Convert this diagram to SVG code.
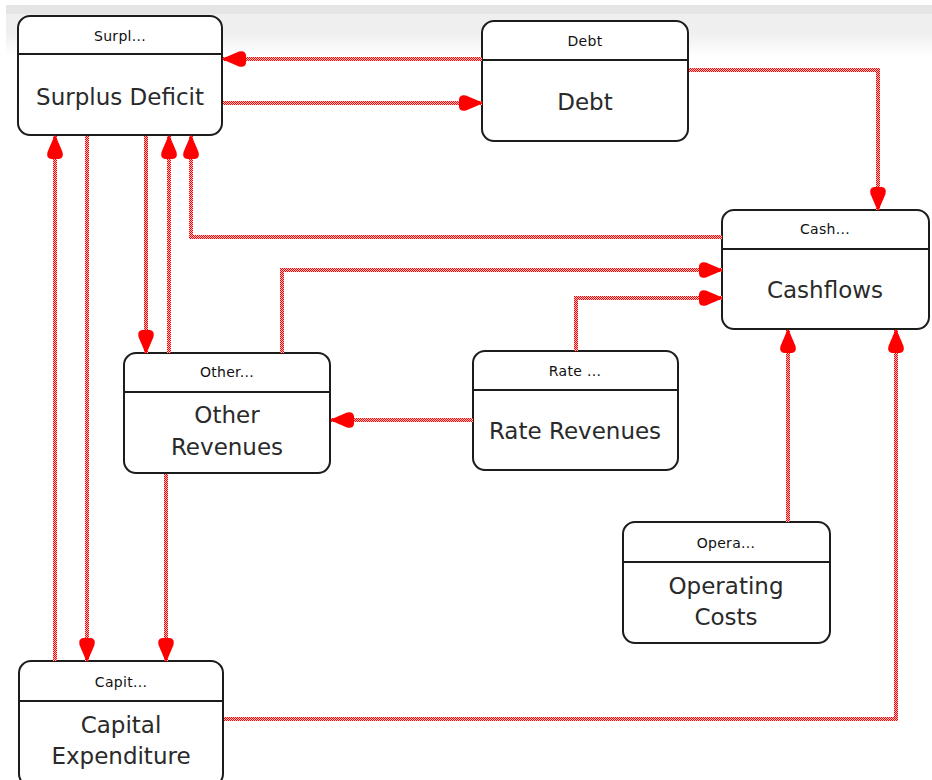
<svg xmlns="http://www.w3.org/2000/svg" width="932" height="780" viewBox="0 0 932 780">
<defs>
<pattern id="dith" width="2" height="2" patternUnits="userSpaceOnUse">
<rect width="2" height="2" fill="#ffc4c4"/>
<rect x="0" y="0" width="1" height="1" fill="#ff0000"/>
<rect x="1" y="1" width="1" height="1" fill="#ff0000"/>
</pattern>
<linearGradient id="fade" x1="0" y1="0" x2="0" y2="1">
<stop offset="0" stop-color="#efefef"/>
<stop offset="0.45" stop-color="#efefef"/>
<stop offset="1" stop-color="#ffffff"/>
</linearGradient>
<marker id="ah" viewBox="-24 -10 26 20" markerWidth="26" markerHeight="20" refX="0" refY="0" orient="auto" markerUnits="userSpaceOnUse">
<path d="M1,0 L-2,-1.5 L-16,-7.5 Q-22,-9 -23,-4 L-23,4 Q-22,9 -16,7.5 L-2,1.5 Z" fill="#ff0000"/>
</marker>
</defs>
<style>
.box{fill:#ffffff;stroke:#1c1c1c;stroke-width:2}
.div{stroke:#1c1c1c;stroke-width:2}
.hd{font-family:"DejaVu Sans",sans-serif;font-size:14px;fill:#111;text-anchor:middle;letter-spacing:0.3px}
.mt{font-family:"DejaVu Sans",sans-serif;font-size:23px;fill:#2a2a2a;text-anchor:middle}
.cn{fill:none;stroke:url(#dith);stroke-width:4;marker-end:url(#ah)}
</style>
<rect x="0" y="0" width="932" height="780" fill="#ffffff"/>
<rect x="6" y="5" width="926" height="9" fill="#e5e5e5"/>
<rect x="6" y="14" width="926" height="42" fill="url(#fade)"/>

<g id="node-surplus">
<rect class="box" x="18" y="16" width="204" height="119" rx="12"/>
<line class="div" x1="18" y1="54" x2="222" y2="54"/>
<text class="hd" x="120" y="41">Surpl...</text>
<text class="mt" x="120" y="105">Surplus Deficit</text>
</g>
<g id="node-debt">
<rect class="box" x="482" y="21" width="206" height="120" rx="12"/>
<line class="div" x1="482" y1="60" x2="688" y2="60"/>
<text class="hd" x="585" y="46">Debt</text>
<text class="mt" x="585" y="110">Debt</text>
</g>
<g id="node-cashflows">
<rect class="box" x="722" y="210" width="207" height="119" rx="12"/>
<line class="div" x1="722" y1="249" x2="929" y2="249"/>
<text class="hd" x="825" y="234">Cash...</text>
<text class="mt" x="825" y="298">Cashflows</text>
</g>
<g id="node-other">
<rect class="box" x="124" y="353" width="206" height="120" rx="12"/>
<line class="div" x1="124" y1="392" x2="330" y2="392"/>
<text class="hd" x="227" y="377">Other...</text>
<text class="mt" x="227" y="423">Other</text>
<text class="mt" x="227" y="455">Revenues</text>
</g>
<g id="node-rate">
<rect class="box" x="473" y="351" width="205" height="119" rx="12"/>
<line class="div" x1="473" y1="390" x2="678" y2="390"/>
<text class="hd" x="575" y="376">Rate ...</text>
<text class="mt" x="575" y="439">Rate Revenues</text>
</g>
<g id="node-operating">
<rect class="box" x="623" y="522" width="207" height="121" rx="12"/>
<line class="div" x1="623" y1="562" x2="830" y2="562"/>
<text class="hd" x="726" y="548">Opera...</text>
<text class="mt" x="726" y="594">Operating</text>
<text class="mt" x="726" y="625">Costs</text>
</g>
<g id="node-capital">
<rect class="box" x="19" y="661" width="204" height="125" rx="12"/>
<line class="div" x1="19" y1="701" x2="223" y2="701"/>
<text class="hd" x="121" y="687">Capit...</text>
<text class="mt" x="121" y="733">Capital</text>
<text class="mt" x="121" y="764">Expenditure</text>
</g>

<g id="connectors">
<path class="cn" d="M482,59 H223"/>
<path class="cn" d="M223,103 H482"/>
<path class="cn" d="M689,70 H878 V210"/>
<path class="cn" d="M722,237 H191 V136"/>
<path class="cn" d="M146,136 V353"/>
<path class="cn" d="M169,353 V136"/>
<path class="cn" d="M55,661 V136"/>
<path class="cn" d="M87,136 V661"/>
<path class="cn" d="M166,474 V661"/>
<path class="cn" d="M282,353 V270 H722"/>
<path class="cn" d="M576,351 V298 H722"/>
<path class="cn" d="M473,420 H331"/>
<path class="cn" d="M788,522 V330"/>
<path class="cn" d="M224,719 H896 V330"/>
</g>
</svg>
